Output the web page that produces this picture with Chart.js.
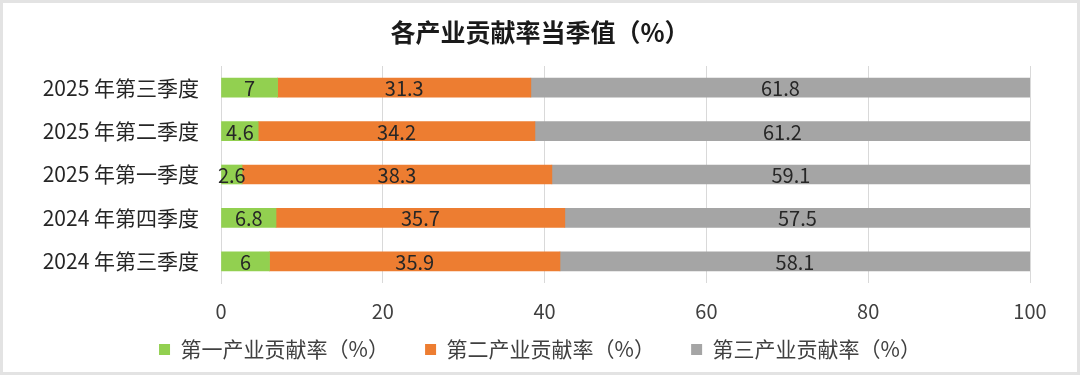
<!DOCTYPE html>
<html>
<head>
<meta charset="utf-8">
<script src="https://cdn.jsdelivr.net/npm/chart.js@4"></script>
<style>
  html, body { margin: 0; padding: 0; background: #fff; }
  #wrap { width: 1080px; height: 375px; }
</style>
</head>
<body>
<div id="wrap"><canvas id="grafico" width="1080" height="375"></canvas></div>
<script>
var categorias = ['2025 年第三季度', '2025 年第二季度', '2025 年第一季度', '2024 年第四季度', '2024 年第三季度'];
var primaria = [7, 4.6, 2.6, 6.8, 6];
var secundaria = [31.3, 34.2, 38.3, 35.7, 35.9];
var terciaria = [61.8, 61.2, 59.1, 57.5, 58.1];
var ticksX = [0, 20, 40, 60, 80, 100];

var fuente = '"Noto Sans CJK SC", "Noto Sans", sans-serif';

// fondo blanco y marco gris
var marco = {
  id: 'marco',
  beforeDraw: function (chart) {
    var ctx = chart.ctx;
    ctx.save();
    ctx.fillStyle = '#ffffff';
    ctx.fillRect(0, 0, chart.width, chart.height);
    ctx.strokeStyle = '#e3e3e3';
    ctx.lineWidth = 3;
    ctx.strokeRect(1.5, 1.5, chart.width - 3, chart.height - 3);
    ctx.restore();
  }
};

// etiquetas de valor centradas en cada tramo
var etiquetas = {
  id: 'etiquetas',
  afterDatasetsDraw: function (chart) {
    var ctx = chart.ctx;
    var area = chart.chartArea;
    ctx.save();
    ctx.font = '20px ' + fuente;
    ctx.fillStyle = '#262626';
    ctx.textAlign = 'center';
    ctx.textBaseline = 'middle';
    chart.data.datasets.forEach(function (ds, i) {
      var meta = chart.getDatasetMeta(i);
      meta.data.forEach(function (barra, j) {
        var x1 = Math.min(barra.base, area.right);
        var x2 = Math.min(barra.x, area.right);
        ctx.fillText(String(ds.data[j]), (x1 + x2) / 2, barra.y + 1);
      });
    });
    ctx.restore();
  }
};

new Chart(document.getElementById('grafico'), {
  type: 'bar',
  data: {
    labels: categorias,
    datasets: [
      { label: '第一产业贡献率（%）', data: primaria, backgroundColor: '#92D050' },
      { label: '第二产业贡献率（%）', data: secundaria, backgroundColor: '#ED7D31' },
      { label: '第三产业贡献率（%）', data: terciaria, backgroundColor: '#A5A5A5' }
    ]
  },
  plugins: [marco, etiquetas],
  options: {
    indexAxis: 'y',
    responsive: false,
    animation: false,
    layout: { padding: { left: 0, right: 0, top: 0, bottom: 5 } },
    datasets: { bar: { barThickness: 19 } },
    scales: {
      x: {
        stacked: true,
        min: 0,
        max: 100,
        afterBuildTicks: function (scale) {
          scale.ticks = ticksX.map(function (v) { return { value: v }; });
        },
        grid: { color: '#d9d9d9', drawTicks: false },
        border: { display: false },
        ticks: { color: '#404040', font: { family: fuente, size: 20 }, padding: 16 }
      },
      y: {
        stacked: true,
        afterFit: function (scale) { scale.width = 221; },
        grid: { display: false, drawTicks: false },
        border: { display: true, color: '#d9d9d9' },
        ticks: { color: '#262626', font: { family: fuente, size: 21 }, padding: 22 }
      },
      // margen derecho sin mover el título
      derecha: {
        type: 'category',
        axis: 'y',
        position: 'right',
        afterFit: function (scale) { scale.width = 50; },
        grid: { display: false, drawTicks: false },
        border: { display: false },
        ticks: { display: false }
      }
    },
    plugins: {
      title: {
        display: true,
        text: '各产业贡献率当季值（%）',
        color: '#1a1a1a',
        font: { family: fuente, size: 25, weight: 'bold' },
        padding: { top: 17, bottom: 19 }
      },
      legend: {
        position: 'bottom',
        labels: {
          color: '#404040',
          font: { family: fuente, size: 21 },
          boxWidth: 11,
          boxHeight: 11,
          padding: 0,
          generateLabels: function (chart) {
            var base = Chart.defaults.plugins.legend.labels.generateLabels(chart);
            base.forEach(function (item, i) {
              if (i < base.length - 1) {
                item.text = item.text + '\u3000\u3000 ';
              }
            });
            return base;
          }
        }
      },
      tooltip: { enabled: false }
    }
  }
});
</script>
</body>
</html>
